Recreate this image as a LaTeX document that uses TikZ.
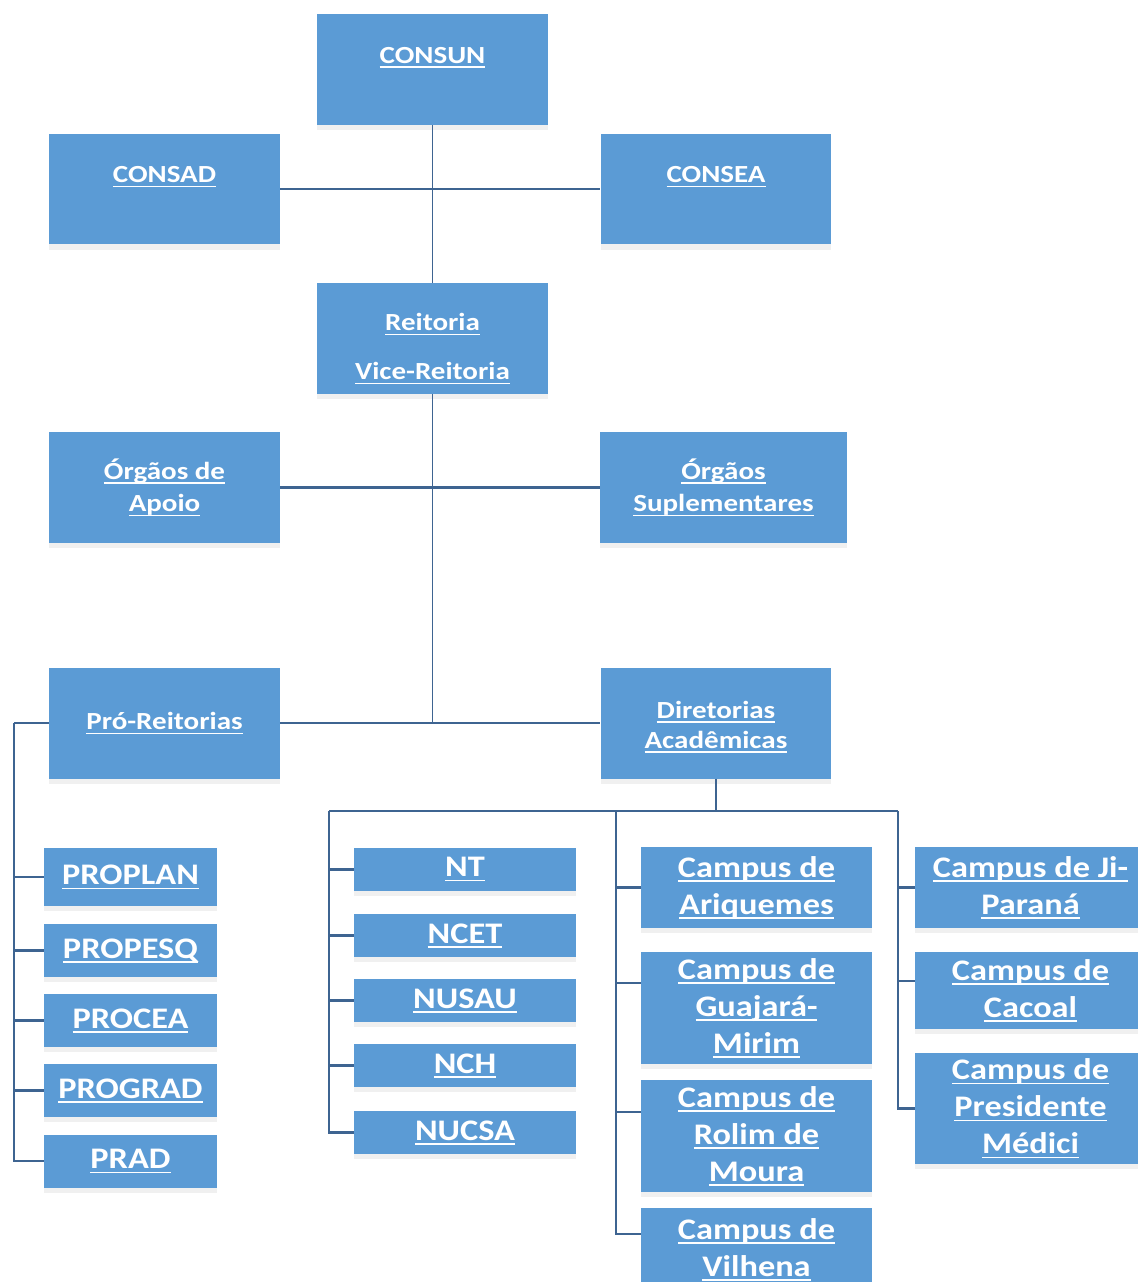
\documentclass[tikz,border=0pt]{standalone}
\usepackage{fontspec}
\newfontfamily\orgfont{Carlito}[FakeStretch=1.18]
\newfontfamily\subfont{Carlito}[FakeStretch=1.15]
\usetikzlibrary{positioning,shadows}

\definecolor{boxblue}{RGB}{91,155,213}
\definecolor{lineblue}{RGB}{62,100,145}
\newcommand\lnk[1]{\setbox0\hbox{#1}\rlap{\rule[-2.6pt]{\wd0}{0.8pt}}\box0}

\tikzset{
  unit/.style={rectangle, fill=boxblue, text=white, align=center, inner sep=2pt,
    font=\orgfont\bfseries\fontsize{14pt}{18.5pt}\selectfont,
    minimum width=4.62cm, minimum height=2.22cm,
    drop shadow={shadow xshift=0pt, shadow yshift=-3pt, opacity=0.12}},
  toplbl/.style={inner ysep=0pt, text height=0.98cm, text depth=1.24cm},
  sub/.style={rectangle, fill=boxblue, text=white, align=center, inner sep=0pt,
    font=\subfont\bfseries\fontsize{17pt}{21pt}\selectfont,
    drop shadow={shadow xshift=0pt, shadow yshift=-3pt, opacity=0.12}},
  pro/.style={sub, minimum width=3.46cm, minimum height=1.06cm},
  nuc/.style={sub, minimum width=4.44cm, minimum height=0.86cm},
  campus/.style={sub, minimum width=4.62cm},
  bar/.style={draw=lineblue, line width=1.6pt},
  stem/.style={draw=lineblue, line width=1pt},
  branch/.style={draw=lineblue, line width=1.3pt}
}

\begin{document}
\begin{tikzpicture}[x=0.02cm, y=-0.02cm]
\useasboundingbox (0,0) rectangle (1137,1282);

\node[unit, toplbl] (consun) at (432.5,69.5) {\lnk{CONSUN}};
\node[unit, toplbl] (consad) at (164.5,189) {\lnk{CONSAD}};
\node[unit, toplbl] (consea) at (716,189) {\lnk{CONSEA}};
\node[unit] (reit) at (432.5,338.5) {\rule{0pt}{0.76cm}\lnk{Reitoria}\\[0.33cm]\lnk{Vice-Reitoria}};
\node[unit] (apoio) at (164.5,487.5) {\lnk{Órgãos de}\\\lnk{Apoio}};
\node[unit, minimum width=4.94cm] (suplem) at (723.5,487.5) {\lnk{Órgãos}\\\lnk{Suplementares}};
\node[unit] (proreit) at (164.5,723) {\lnk{Pró-Reitorias}};
\node[unit] (diret) at (716,723) {\rule{0pt}{0.5cm}\lnk{Diretorias}\\[-0.05cm]\lnk{Acadêmicas}};

\node[pro, minimum height=1.16cm] (proplan) at (130.5,877) {\lnk{PROPLAN}};
\node[pro] (propesq) at (130.5,950.5) {\lnk{PROPESQ}};
\node[pro] (procea) at (130.5,1020.5) {\lnk{PROCEA}};
\node[pro] (prograd) at (130.5,1090.5) {\lnk{PROGRAD}};
\node[pro] (prad) at (130.5,1161) {\lnk{PRAD}};

\node[nuc] (nt) at (465,869.5) {\lnk{NT}};
\node[nuc] (ncet) at (465,935.5) {\lnk{NCET}};
\node[nuc] (nusau) at (465,1000.5) {\lnk{NUSAU}};
\node[nuc] (nch) at (465,1065.5) {\lnk{NCH}};
\node[nuc] (nucsa) at (465,1132.5) {\lnk{NUCSA}};

\node[campus, minimum height=1.62cm] (ariq) at (756.5,887.5) {\lnk{Campus de}\\\lnk{Ariquemes}};
\node[campus, minimum height=2.24cm] (guaj) at (756.5,1008) {\lnk{Campus de}\\\lnk{Guajará-}\\\lnk{Mirim}};
\node[campus, minimum height=2.24cm] (rolim) at (756.5,1136) {\lnk{Campus de}\\\lnk{Rolim de}\\\lnk{Moura}};
\node[campus, minimum height=1.66cm] (vilh) at (756.5,1249.5) {\lnk{Campus de}\\\lnk{Vilhena}};

\node[campus, minimum height=1.62cm] (jipa) at (1030.5,887.5) {\lnk{Campus de Ji-}\\\lnk{Paraná}};
\node[campus, minimum height=1.54cm] (cacoal) at (1030.5,990.5) {\lnk{Campus de}\\\lnk{Cacoal}};
\node[campus, minimum height=2.22cm] (presmed) at (1030.5,1108.5) {\lnk{Campus de}\\\lnk{Presidente}\\\lnk{Médici}};

\coordinate (trunk) at (reit.south |- proreit.east);
\coordinate (pl) at (14,723);
\coordinate (bus) at (716,811);
\coordinate (busN) at (329,811);
\coordinate (busC) at (616,811);
\coordinate (busJ) at (898,811);

\draw[stem] (consun) -- (reit);
\draw[bar] (consad) -- (consea);
\draw[stem] (reit) -- (trunk);
\draw[bar] (apoio) -- (suplem);
\draw[bar] (proreit) -- (diret);

\draw[branch] (proreit.west) -- (pl);
\foreach \n in {proplan,propesq,procea,prograd,prad}
  \draw[branch] (pl) |- (\n.west);

\draw[branch] (diret.south) -- (bus);
\draw[branch] (busN) -- (busJ);
\foreach \n in {nt,ncet,nusau,nch,nucsa}
  \draw[branch] (busN) |- (\n.west);

\draw[branch] (busC) |- (ariq.west);
\draw[branch] (busC) |- ([yshift=0.5cm]guaj.west);
\draw[branch] (busC) |- ([yshift=0.48cm]rolim.west);
\draw[branch] (busC) |- ([yshift=0.31cm]vilh.west);

\draw[branch] (busJ) |- (jipa.west);
\draw[branch] (busJ) |- ([yshift=0.19cm]cacoal.west);
\draw[branch] (busJ) |- (presmed.west);
\end{tikzpicture}
\end{document}
